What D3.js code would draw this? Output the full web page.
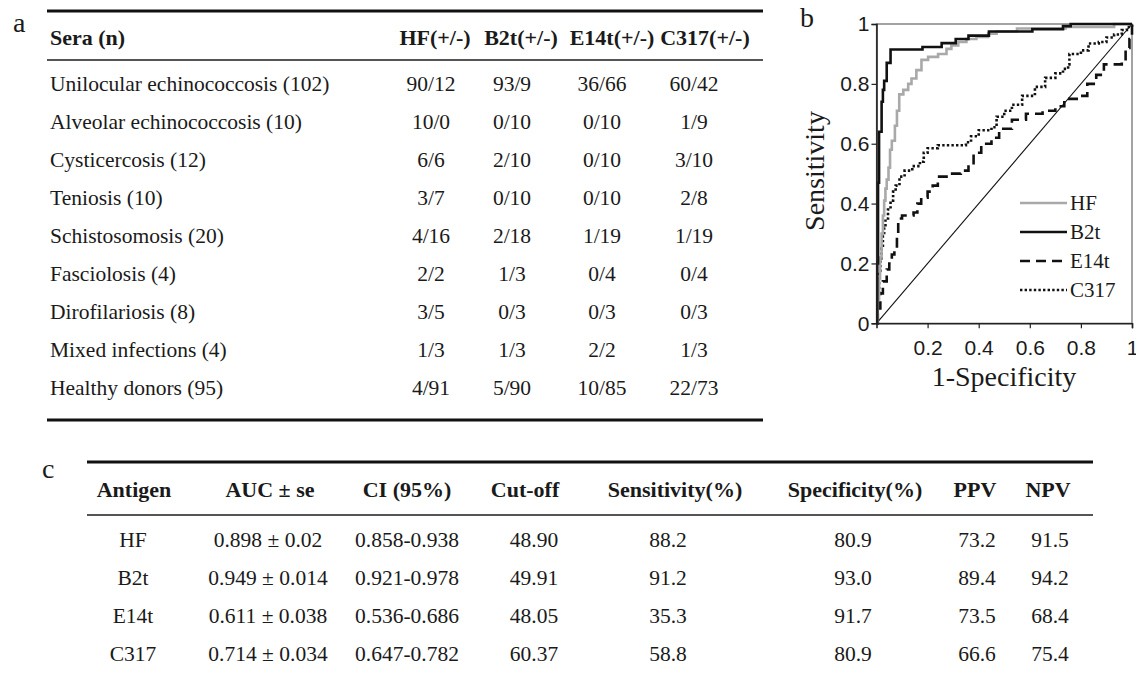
<!DOCTYPE html>
<html><head><meta charset="utf-8">
<script src="https://cdn.jsdelivr.net/npm/d3@7"></script>
<style>
html,body{margin:0;padding:0;background:#fff;}
svg{display:block;}
</style></head><body>
<svg id="chart" width="1136" height="676"></svg>
<script>
// ---------------- DATA ----------------
const seraGroups = ["Unilocular echinococcosis (102)", "Alveolar echinococcosis (10)", "Cysticercosis (12)", "Teniosis (10)", "Schistosomosis (20)", "Fasciolosis (4)", "Dirofilariosis (8)", "Mixed infections (4)", "Healthy donors (95)"];
const tableAHeaders = ["Sera (n)", "HF(+/-)", "B2t(+/-)", "E14t(+/-)", "C317(+/-)"];
const hfCounts   = ["90/12","10/0","6/6","3/7","4/16","2/2","3/5","1/3","4/91"];
const b2tCounts  = ["93/9","0/10","2/10","0/10","2/18","1/3","0/3","1/3","5/90"];
const e14tCounts = ["36/66","0/10","0/10","0/10","1/19","0/4","0/3","2/2","10/85"];
const c317Counts = ["60/42","1/9","3/10","2/8","1/19","0/4","0/3","1/3","22/73"];

const antigens = ["HF","B2t","E14t","C317"];
const tableCHeaders = ["Antigen","AUC \u00b1 se","CI (95%)","Cut-off","Sensitivity(%)","Specificity(%)","PPV","NPV"];
const aucSe       = ["0.898 \u00b1 0.02","0.949 \u00b1 0.014","0.611 \u00b1 0.038","0.714 \u00b1 0.034"];
const ci95        = ["0.858-0.938","0.921-0.978","0.536-0.686","0.647-0.782"];
const cutOff      = ["48.90","49.91","48.05","60.37"];
const sensitivity = ["88.2","91.2","35.3","58.8"];
const specificity = ["80.9","93.0","91.7","80.9"];
const ppv         = ["73.2","89.4","73.5","66.6"];
const npv         = ["91.5","94.2","68.4","75.4"];

const rocTicksY = [0,0.2,0.4,0.6,0.8,1];
const rocTicksX = [0.2,0.4,0.6,0.8,1];
const rocSeries = ["HF","B2t","E14t","C317"];
// [1-specificity, sensitivity] corners of each ROC staircase
const rocHF = [[0,0],[0.005,0.08],[0.01,0.15],[0.014,0.22],[0.02,0.3],[0.025,0.36],[0.03,0.41],[0.035,0.45],[0.04,0.48],[0.047,0.52],[0.053,0.58],[0.06,0.61],[0.072,0.66],[0.08,0.71],[0.089,0.765],[0.105,0.78],[0.124,0.8],[0.137,0.818],[0.156,0.846],[0.176,0.88],[0.202,0.89],[0.241,0.9],[0.274,0.917],[0.293,0.928],[0.32,0.94],[0.352,0.95],[0.391,0.957],[0.437,0.968],[0.47,0.975],[0.55,0.985],[0.74,0.99],[0.93,1],[1,1]];
const rocB2t = [[0,0],[0.003,0.2],[0.006,0.47],[0.01,0.64],[0.02,0.74],[0.025,0.78],[0.03,0.81],[0.04,0.87],[0.055,0.915],[0.18,0.923],[0.255,0.936],[0.31,0.95],[0.36,0.961],[0.44,0.975],[0.61,0.983],[0.73,0.993],[0.76,1],[1,1]];
const rocE14t = [[0,0],[0.005,0.05],[0.015,0.1],[0.025,0.14],[0.04,0.18],[0.05,0.2],[0.06,0.23],[0.07,0.25],[0.08,0.29],[0.085,0.35],[0.1,0.36],[0.145,0.37],[0.16,0.4],[0.175,0.42],[0.2,0.44],[0.22,0.46],[0.24,0.49],[0.29,0.5],[0.33,0.51],[0.36,0.53],[0.38,0.57],[0.41,0.6],[0.45,0.62],[0.48,0.65],[0.53,0.68],[0.585,0.7],[0.65,0.71],[0.7,0.725],[0.735,0.75],[0.8,0.76],[0.825,0.8],[0.86,0.83],[0.89,0.865],[0.96,0.875],[0.975,0.92],[0.99,0.95],[1,1]];
const rocC317 = [[0,0],[0.005,0.1],[0.01,0.17],[0.015,0.21],[0.02,0.25],[0.025,0.29],[0.03,0.32],[0.035,0.35],[0.045,0.38],[0.055,0.41],[0.065,0.44],[0.075,0.46],[0.09,0.49],[0.11,0.51],[0.14,0.525],[0.17,0.54],[0.185,0.57],[0.2,0.585],[0.24,0.595],[0.35,0.605],[0.37,0.625],[0.4,0.645],[0.45,0.655],[0.47,0.69],[0.5,0.71],[0.53,0.73],[0.57,0.76],[0.62,0.79],[0.66,0.82],[0.7,0.835],[0.73,0.85],[0.75,0.865],[0.755,0.9],[0.8,0.912],[0.83,0.935],[0.87,0.94],[0.9,0.955],[0.93,0.965],[0.96,0.98],[0.98,0.99],[1,1]];

// ---------------- DRAW ----------------
const svg = d3.select("#chart");
const serif = "'Liberation Serif','Times New Roman',Times,serif";
const sans = "'Liberation Sans',Arial,Helvetica,sans-serif";
const ink = "#1a1a1a";

function rule(x1, x2, y, w, c) {
  svg.append("line").attr("x1", x1).attr("x2", x2).attr("y1", y).attr("y2", y)
    .attr("stroke", c).attr("stroke-width", w);
}
function txt(s, x, y, size, opts) {
  opts = opts || {};
  return svg.append("text").attr("x", x).attr("y", y + 0.34 * size)
    .attr("font-family", opts.family || serif).attr("font-size", size)
    .attr("font-weight", opts.bold ? "bold" : "normal")
    .attr("text-anchor", opts.anchor || "start").attr("fill", opts.fill || ink).text(s);
}

// ---- panel a ----
const aCols = ["HF","B2t","E14t","C317"];
const aValues = {HF: hfCounts, B2t: b2tCounts, E14t: e14tCounts, C317: c317Counts};
const aRowY = d3.scalePoint().domain(seraGroups).range([84, 388]);
const aHeadX = d3.scaleOrdinal().domain(aCols).range([435, 521, 612, 705]);
const aDataX = d3.scaleOrdinal().domain(aCols).range([431, 512, 602, 694]);

txt("a", 13, 22, 28);
rule(47, 763, 11, 3, "#111");
rule(47, 763, 60, 2, "#555");
rule(47, 763, 420, 3, "#111");
txt(tableAHeaders[0], 50, 38, 22, {bold: true});
aCols.forEach((c, i) => txt(tableAHeaders[i + 1], aHeadX(c), 38, 22, {bold: true, anchor: "middle"}));
seraGroups.forEach((g, r) => {
  txt(g, 50, aRowY(g), 21.5);
  aCols.forEach(c => txt(aValues[c][r], aDataX(c), aRowY(g), 21.5, {anchor: "middle"}));
});

// ---- panel c ----
const cCols = tableCHeaders;
const cValues = [antigens, aucSe, ci95, cutOff, sensitivity, specificity, ppv, npv];
const cRowY = d3.scalePoint().domain(antigens).range([540, 654]);
const cHeadX = d3.scaleOrdinal().domain(cCols).range([134, 270, 407, 525, 675, 855, 975, 1048]);
const cDataX = d3.scaleOrdinal().domain(cCols).range([133, 268, 407, 534, 668, 853, 977, 1050]);

txt("c", 42, 468, 28);
rule(87, 1093, 462, 3, "#111");
rule(87, 1093, 515, 2, "#555");
cCols.forEach(c => txt(c, cHeadX(c), 490, 22, {bold: true, anchor: "middle"}));
antigens.forEach((a, r) => {
  cCols.forEach((c, j) => txt(cValues[j][r], cDataX(c), cRowY(a), 21.5, {anchor: "middle"}));
});

// ---- panel b (ROC) ----
const x = d3.scaleLinear().domain([0, 1]).range([876.5, 1132]);
const y = d3.scaleLinear().domain([0, 1]).range([323.3, 24]);
const g = svg.append("g");

txt("b", 800, 17, 28);

// frame
g.append("rect").attr("x", x(0)).attr("y", y(1)).attr("width", x(1) - x(0)).attr("height", y(0) - y(1))
  .attr("fill", "none").attr("stroke", "#666").attr("stroke-width", 1.2);

// diagonal
g.append("line").attr("x1", x(0)).attr("y1", y(0)).attr("x2", x(1)).attr("y2", y(1))
  .attr("stroke", "#111").attr("stroke-width", 1.1);

const styles = {
  HF:   {stroke: "#a9a9a9", dash: null},
  B2t:  {stroke: "#111", dash: null},
  E14t: {stroke: "#111", dash: "10,6"},
  C317: {stroke: "#111", dash: "2.4,2.2"}
};
const rocData = {HF: rocHF, B2t: rocB2t, E14t: rocE14t, C317: rocC317};
const line = d3.line().x(d => x(d[0])).y(d => y(d[1])).curve(d3.curveStepAfter);
["C317", "E14t", "HF", "B2t"].forEach(k => {
  g.append("path").datum(rocData[k]).attr("d", line).attr("fill", "none")
    .attr("stroke", styles[k].stroke).attr("stroke-width", 2.6)
    .attr("stroke-dasharray", styles[k].dash);
});

// axes
const fmt = d => d3.format("~g")(d);
const ya = g.append("g").attr("transform", `translate(${x(0)},0)`)
  .call(d3.axisLeft(y).tickValues(rocTicksY).tickSize(5).tickPadding(2).tickFormat(fmt));
const xa = g.append("g").attr("transform", `translate(0,${y(0)})`)
  .call(d3.axisBottom(x).tickValues(rocTicksX).tickSize(5).tickPadding(12).tickFormat(fmt));
[ya, xa].forEach(a => {
  a.select(".domain").attr("stroke", "#222").attr("stroke-width", 1.6);
  a.selectAll(".tick line").attr("stroke", "#222").attr("stroke-width", 1.2);
  a.selectAll(".tick text").attr("font-family", sans).attr("font-size", 21).attr("fill", ink);
});

// axis titles
svg.append("text").attr("transform", "translate(824,171) rotate(-90)")
  .attr("text-anchor", "middle").attr("font-family", serif).attr("font-size", 28).attr("fill", ink)
  .text("Sensitivity");
svg.append("text").attr("x", 1004).attr("y", 385.5)
  .attr("text-anchor", "middle").attr("font-family", serif).attr("font-size", 28).attr("fill", ink)
  .text("1-Specificity");

// legend
const legY = d3.scalePoint().domain(rocSeries).range([203, 290]);
rocSeries.forEach(k => {
  svg.append("line").attr("x1", 1020).attr("x2", 1067).attr("y1", legY(k)).attr("y2", legY(k))
    .attr("stroke", styles[k].stroke).attr("stroke-width", 2.6).attr("stroke-dasharray", styles[k].dash);
  txt(k, 1070, legY(k), 21);
});
</script>
</body></html>
